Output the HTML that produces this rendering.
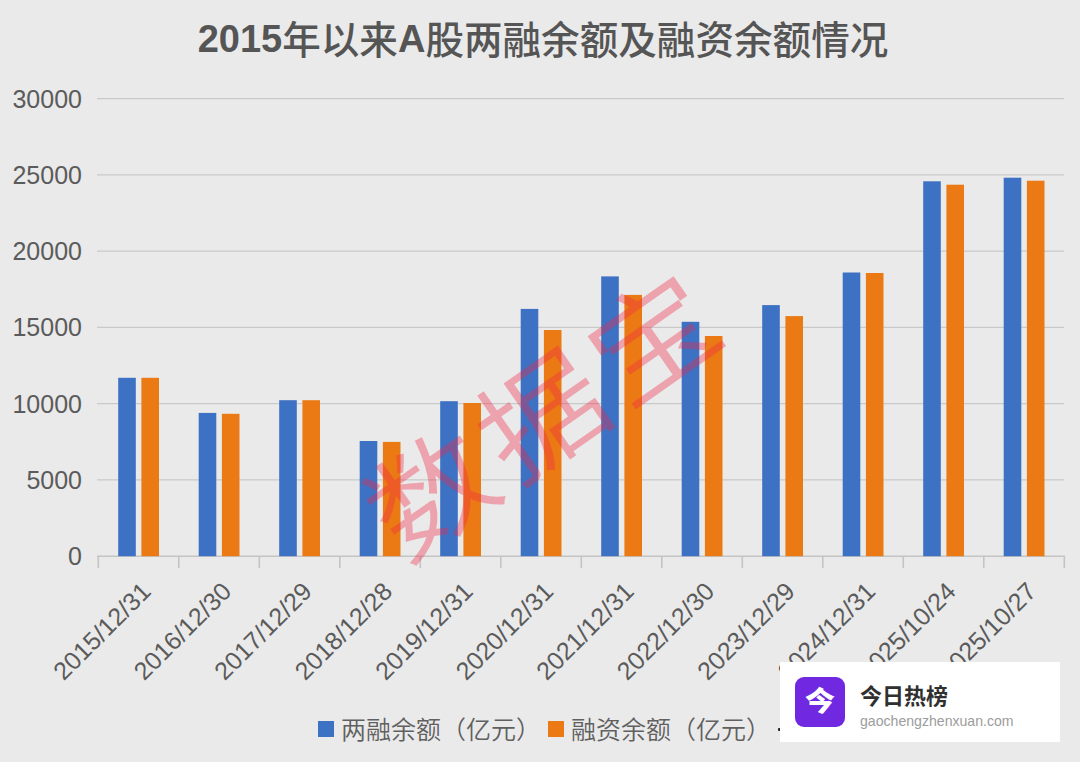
<!DOCTYPE html>
<html><head><meta charset="utf-8"><style>
html,body{margin:0;padding:0;background:#eaeaea;}
body{width:1080px;height:762px;overflow:hidden;position:relative;font-family:"Liberation Sans","Noto Sans CJK SC",sans-serif;}
svg{position:absolute;left:0;top:0;}
.yl{font-family:"Liberation Sans",sans-serif;font-size:25px;fill:#5b5b5b;}
.xl{font-family:"Liberation Sans",sans-serif;font-size:25px;fill:#5b5b5b;}
.title{position:absolute;left:3px;top:7px;width:1080px;text-align:center;font-size:38px;color:#555;white-space:nowrap;font-family:"Liberation Sans","Noto Sans CJK SC",sans-serif;}
.title b{font-weight:bold;}
.title span{font-weight:500;font-size:38.6px;position:relative;top:1.5px;}
.wm text{font-family:"Noto Sans CJK SC",sans-serif;font-size:115px;font-weight:350;letter-spacing:8px;fill:rgba(240,40,70,0.37);}
.legend{position:absolute;top:710px;left:318px;font-size:25px;color:#606060;font-weight:350;white-space:nowrap;font-family:"Liberation Sans","Noto Sans CJK SC",sans-serif;}
.sq{position:absolute;width:16px;height:16px;top:11px;}
.lt{position:absolute;top:0;}
.card{position:absolute;left:780px;top:662px;width:280px;height:80px;background:#fff;}
.ic{position:absolute;left:15px;top:15px;width:50px;height:50px;border-radius:9px;background:#7028e0;}
.ic span{position:absolute;left:0;top:0;width:50px;height:50px;color:#fff;font-size:30px;font-weight:900;text-align:center;line-height:46px;font-family:"Noto Sans CJK SC",sans-serif;transform:scaleY(0.92);transform-origin:50% 20%;}
.ct{position:absolute;left:80px;top:16.5px;font-size:22px;font-weight:bold;color:#303030;font-family:"Noto Sans CJK SC",sans-serif;line-height:30px;}
.cu{position:absolute;left:80px;top:50px;font-size:14.1px;color:#9c9c9c;font-family:"Liberation Sans",sans-serif;line-height:18px;}
</style></head><body>
<div class="title"><b>2015</b><span>年以来</span><b>A</b><span>股两融余额及融资余额情况</span></div>
<svg width="1080" height="762" viewBox="0 0 1080 762">
<line x1="97" y1="479.9" x2="1064" y2="479.9" stroke="#c9c9c9" stroke-width="1.3"/>
<line x1="97" y1="403.7" x2="1064" y2="403.7" stroke="#c9c9c9" stroke-width="1.3"/>
<line x1="97" y1="327.4" x2="1064" y2="327.4" stroke="#c9c9c9" stroke-width="1.3"/>
<line x1="97" y1="251.1" x2="1064" y2="251.1" stroke="#c9c9c9" stroke-width="1.3"/>
<line x1="97" y1="174.9" x2="1064" y2="174.9" stroke="#c9c9c9" stroke-width="1.3"/>
<line x1="97" y1="98.6" x2="1064" y2="98.6" stroke="#c9c9c9" stroke-width="1.3"/>
<line x1="97" y1="556.2" x2="1065" y2="556.2" stroke="#c4c4c4" stroke-width="1.6"/>
<line x1="98.3" y1="556.2" x2="98.3" y2="568" stroke="#c4c4c4" stroke-width="1.6"/>
<line x1="178.8" y1="556.2" x2="178.8" y2="568" stroke="#c4c4c4" stroke-width="1.6"/>
<line x1="259.3" y1="556.2" x2="259.3" y2="568" stroke="#c4c4c4" stroke-width="1.6"/>
<line x1="339.8" y1="556.2" x2="339.8" y2="568" stroke="#c4c4c4" stroke-width="1.6"/>
<line x1="420.3" y1="556.2" x2="420.3" y2="568" stroke="#c4c4c4" stroke-width="1.6"/>
<line x1="500.8" y1="556.2" x2="500.8" y2="568" stroke="#c4c4c4" stroke-width="1.6"/>
<line x1="581.3" y1="556.2" x2="581.3" y2="568" stroke="#c4c4c4" stroke-width="1.6"/>
<line x1="661.8" y1="556.2" x2="661.8" y2="568" stroke="#c4c4c4" stroke-width="1.6"/>
<line x1="742.3" y1="556.2" x2="742.3" y2="568" stroke="#c4c4c4" stroke-width="1.6"/>
<line x1="822.8" y1="556.2" x2="822.8" y2="568" stroke="#c4c4c4" stroke-width="1.6"/>
<line x1="903.3" y1="556.2" x2="903.3" y2="568" stroke="#c4c4c4" stroke-width="1.6"/>
<line x1="983.8" y1="556.2" x2="983.8" y2="568" stroke="#c4c4c4" stroke-width="1.6"/>
<line x1="1064.3" y1="556.2" x2="1064.3" y2="568" stroke="#c4c4c4" stroke-width="1.6"/>
<rect x="118.2" y="377.8" width="17.6" height="178.4" fill="#3d71c4"/>
<rect x="141.4" y="377.8" width="17.6" height="178.4" fill="#ec7a14"/>
<rect x="198.7" y="412.9" width="17.6" height="143.3" fill="#3d71c4"/>
<rect x="221.9" y="413.8" width="17.6" height="142.4" fill="#ec7a14"/>
<rect x="279.2" y="400.2" width="17.6" height="156.0" fill="#3d71c4"/>
<rect x="302.4" y="400.2" width="17.6" height="156.0" fill="#ec7a14"/>
<rect x="359.7" y="441.0" width="17.6" height="115.2" fill="#3d71c4"/>
<rect x="382.9" y="441.9" width="17.6" height="114.3" fill="#ec7a14"/>
<rect x="440.2" y="401.2" width="17.6" height="155.0" fill="#3d71c4"/>
<rect x="463.4" y="403.0" width="17.6" height="153.2" fill="#ec7a14"/>
<rect x="520.7" y="308.9" width="17.6" height="247.3" fill="#3d71c4"/>
<rect x="543.9" y="330.0" width="17.6" height="226.2" fill="#ec7a14"/>
<rect x="601.2" y="276.4" width="17.6" height="279.8" fill="#3d71c4"/>
<rect x="624.4" y="294.9" width="17.6" height="261.3" fill="#ec7a14"/>
<rect x="681.7" y="321.8" width="17.6" height="234.4" fill="#3d71c4"/>
<rect x="704.9" y="336.0" width="17.6" height="220.2" fill="#ec7a14"/>
<rect x="762.2" y="305.1" width="17.6" height="251.1" fill="#3d71c4"/>
<rect x="785.4" y="316.1" width="17.6" height="240.1" fill="#ec7a14"/>
<rect x="842.7" y="272.5" width="17.6" height="283.7" fill="#3d71c4"/>
<rect x="865.9" y="273.0" width="17.6" height="283.2" fill="#ec7a14"/>
<rect x="923.2" y="181.3" width="17.6" height="374.9" fill="#3d71c4"/>
<rect x="946.4" y="184.7" width="17.6" height="371.5" fill="#ec7a14"/>
<rect x="1003.7" y="177.7" width="17.6" height="378.5" fill="#3d71c4"/>
<rect x="1026.9" y="180.7" width="17.6" height="375.5" fill="#ec7a14"/>
<text x="82" y="565.2" text-anchor="end" class="yl">0</text>
<text x="82" y="488.9" text-anchor="end" class="yl">5000</text>
<text x="82" y="412.7" text-anchor="end" class="yl">10000</text>
<text x="82" y="336.4" text-anchor="end" class="yl">15000</text>
<text x="82" y="260.1" text-anchor="end" class="yl">20000</text>
<text x="82" y="183.9" text-anchor="end" class="yl">25000</text>
<text x="82" y="107.6" text-anchor="end" class="yl">30000</text>
<text transform="translate(152.3,593) rotate(-45)" text-anchor="end" class="xl">2015/12/31</text>
<text transform="translate(232.8,593) rotate(-45)" text-anchor="end" class="xl">2016/12/30</text>
<text transform="translate(313.3,593) rotate(-45)" text-anchor="end" class="xl">2017/12/29</text>
<text transform="translate(393.8,593) rotate(-45)" text-anchor="end" class="xl">2018/12/28</text>
<text transform="translate(474.3,593) rotate(-45)" text-anchor="end" class="xl">2019/12/31</text>
<text transform="translate(554.8,593) rotate(-45)" text-anchor="end" class="xl">2020/12/31</text>
<text transform="translate(635.3,593) rotate(-45)" text-anchor="end" class="xl">2021/12/31</text>
<text transform="translate(715.8,593) rotate(-45)" text-anchor="end" class="xl">2022/12/30</text>
<text transform="translate(796.3,593) rotate(-45)" text-anchor="end" class="xl">2023/12/29</text>
<text transform="translate(876.8,593) rotate(-45)" text-anchor="end" class="xl">2024/12/31</text>
<text transform="translate(957.3,593) rotate(-45)" text-anchor="end" class="xl">2025/10/24</text>
<text transform="translate(1037.8,593) rotate(-45)" text-anchor="end" class="xl">2025/10/27</text>
<g transform="translate(538,410) rotate(-35) scale(1.1,1)" class="wm"><text x="4" y="0" dominant-baseline="central" text-anchor="middle">数据宝</text></g>
</svg>
<div class="legend">
<div class="sq" style="left:0;background:#3d71c4"></div><div class="lt" style="left:23px">两融余额（亿元）</div>
<div class="sq" style="left:230px;background:#ec7a14"></div><div class="lt" style="left:253px">融资余额（亿元）</div>
</div>
<div style="position:absolute;left:778px;top:728px;width:2.5px;height:2.5px;border-radius:1px;background:#222"></div>
<div class="card"><div class="ic"><span>今</span></div><div class="ct">今日热榜</div><div class="cu">gaochengzhenxuan.com</div></div>
</body></html>
